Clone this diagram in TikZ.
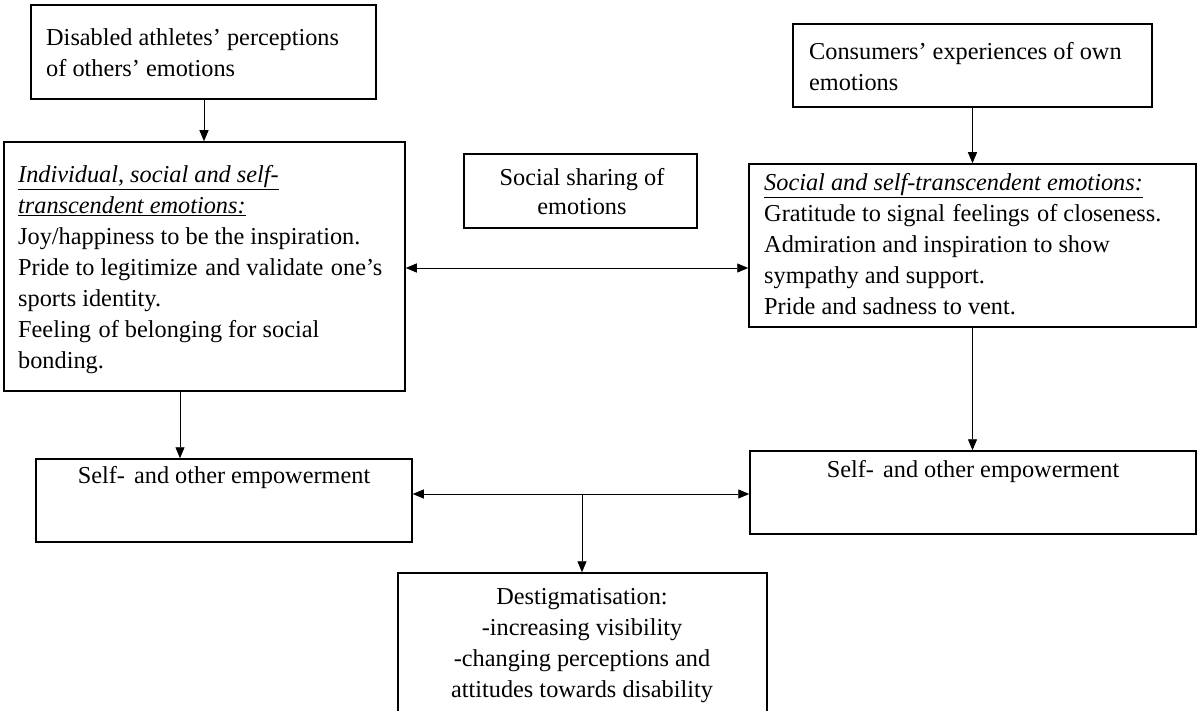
\documentclass[tikz,border=0pt]{standalone}
\usepackage{fontspec}
\setmainfont{Liberation Serif}
\usetikzlibrary{arrows.meta}
\tikzset{
  box/.style={draw, line width=1.5pt, inner sep=0pt},
  txt/.style={inner sep=0pt, font=\fontsize{24.3}{31}\selectfont},
  arr/.style={line width=0.9pt, -{Triangle[length=11pt,width=9pt]}},
  darr/.style={line width=0.9pt, {Triangle[length=11pt,width=9pt]}-{Triangle[length=11pt,width=9pt]}}
}
\begin{document}
\begin{tikzpicture}[x=1pt,y=-1pt]
\useasboundingbox (0,0) rectangle (1197,711);
% boxes
\node[box, minimum width=345pt, minimum height=94pt] (TL) at (203.5,52) {};
\node[box, minimum width=359pt, minimum height=83pt] (TR) at (972.5,65.5) {};
\node[box, minimum width=401pt, minimum height=249pt] (L) at (204.5,266.5) {};
\node[box, minimum width=233pt, minimum height=74pt] (M) at (580.5,191) {};
\node[box, minimum width=447pt, minimum height=163pt] (R) at (972.5,245.5) {};
\node[box, minimum width=376pt, minimum height=83pt] (SL) at (224,500.5) {};
\node[box, minimum width=446pt, minimum height=83pt] (SR) at (973,492.5) {};
\node[box, minimum width=369pt, minimum height=143pt] (D) at (582.5,644.5) {};
% texts
\node[txt, anchor=north west, align=left] (tTL) at (46,28)
  {Disabled athletes’ perceptions\\of others’ emotions};
\node[txt, anchor=north west, align=left] (tTR) at (809,42)
  {Consumers’ experiences of own\\emotions};
\node[txt, anchor=north west, align=left] (tL) at (18,165)
  {\underline{\itshape Individual, social and self-}\\
   \underline{\itshape transcendent emotions:}\\
   Joy/happiness to be the inspiration.\\
   Pride to legitimize\hspace{1.5pt} and validate\hspace{1.5pt} one’s\\
   sports identity.\\
   Feeling\hspace{1.5pt} of belonging for social\\
   bonding.};
\node[txt, anchor=north, align=center, font=\fontsize{24.3}{29}\selectfont] (tM) at (582,168)
  {Social sharing of\\emotions};
\node[txt, anchor=north west, align=left] (tR) at (764,173)
  {\underline{\itshape Social and self-transcendent emotions:}\\
   Gratitude to signal\hspace{1.5pt} feelings\hspace{1.5pt} of closeness.\\
   Admiration and inspiration to show\\
   sympathy and support.\\
   Pride and sadness to vent.};
\node[txt, anchor=base] (tSL) at (224,483) {Self-\hspace{3pt} and other empowerment};
\node[txt, anchor=base] (tSR) at (973,477) {Self-\hspace{3pt} and other empowerment};
\node[txt, anchor=north, align=center] (tD) at (582,588)
  {Destigmatisation:\\-increasing visibility\\-changing perceptions and\\attitudes towards disability};
% connectors
\coordinate (c1) at (180,0);
\coordinate (mid) at (582,494);
\draw[arr] (TL.south -| 204,0) -- (L.north -| 204,0);
\draw[arr] (TR.south) -- (TR.south |- R.north);
\draw[darr] (L.east |- 0,268) -- (R.west |- 0,268);
\draw[arr] (L.south -| c1) -- (SL.north -| c1);
\draw[arr] (R.south) -- (R.south |- SR.north);
\draw[darr] (SL.east |- mid) -- (SR.west |- mid);
\draw[arr] (mid) -- (D.north -| mid);
\end{tikzpicture}
\end{document}
